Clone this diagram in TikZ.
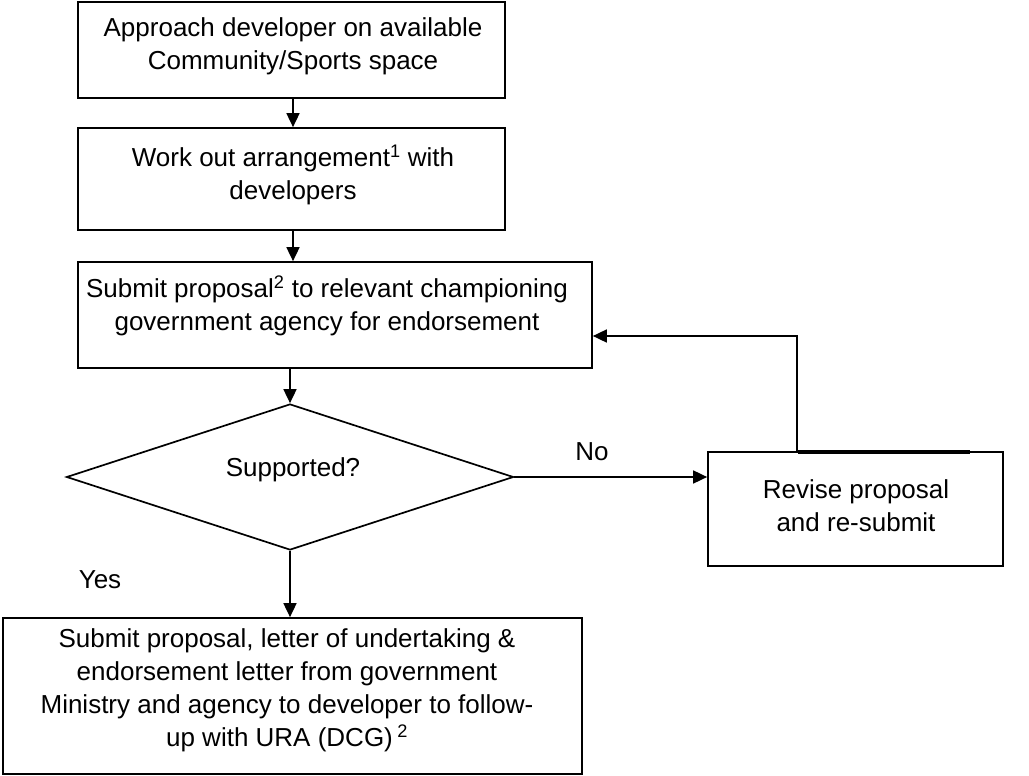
\documentclass[tikz,border=0pt]{standalone}
\usepackage{fontspec}
\setmainfont{Liberation Sans}
\usetikzlibrary{shapes.geometric,arrows.meta}
\tikzset{
  box/.style={draw, line width=1.7pt, inner sep=0pt},
  txt/.style={align=center, font=\fontsize{26}{33}\selectfont, inner sep=0pt},
  decision/.style={draw, diamond, line width=1.7pt, inner sep=0pt, aspect=3.2},
  arr/.style={line width=1.7pt, -{Triangle[length=14pt,width=13pt]}},
  lbl/.style={font=\fontsize{26}{30}\selectfont, inner sep=0pt}
}
\begin{document}
\begin{tikzpicture}[x=1pt,y=-1pt]
\useasboundingbox[fill=white] (0,0) rectangle (1029,776);
% boxes
\node[box, minimum width=427pt, minimum height=96pt] (b1) at (291.5,50) {};
\node[txt] (t1) at (293,46) {Approach developer on available\\Community/Sports space};
\node[box, minimum width=427pt, minimum height=102pt] (b2) at (291.5,179) {};
\node[txt] (t2) at (293,175) {Work out arrangement\textsuperscript{1} with\\developers};
\node[box, minimum width=514pt, minimum height=106pt] (b3) at (335,315) {};
\node[txt] (t3) at (327,306) {Submit proposal\textsuperscript{2} to relevant championing\\government agency for endorsement};
\node[decision, minimum width=447pt, minimum height=146pt] (d) at (290,477) {};
\node[txt] (td) at (293,470) {Supported?};
\node[box, minimum width=295pt, minimum height=114pt] (r) at (855.5,509) {};
\node[txt] (tr) at (856,506) {Revise proposal\\and re-submit};
\node[box, minimum width=579pt, minimum height=156pt] (b5) at (292.5,696) {};
\node[txt] (t5) at (287,690) {Submit proposal, letter of undertaking \&\\endorsement letter from government\\Ministry and agency to developer to follow-\\up with URA (DCG)\,\textsuperscript{2}};
% labels
\node[lbl] (no) at (592,452) {No};
\node[lbl] (yes) at (100,580) {Yes};
% connectors
\draw[arr] (b1.south -| t1) -- (b2.north -| t1);
\draw[arr] (b2.south -| t1) -- (b3.north -| t1);
\draw[arr] (b3.south -| d.north) -- (d.north);
\draw[arr] (d.east) -- (r.west |- d.east);
\draw[arr] (d.south) -- (b5.north -| d.south);
\coordinate (up) at (797,336);
\draw[arr] (r.north -| up) -- (up) -- (b3.east |- up);
\coordinate (s1) at (798,452);
\coordinate (s2) at (970,452);
\draw[line width=3.4pt] (s1) -- (s2);
\end{tikzpicture}
\end{document}
